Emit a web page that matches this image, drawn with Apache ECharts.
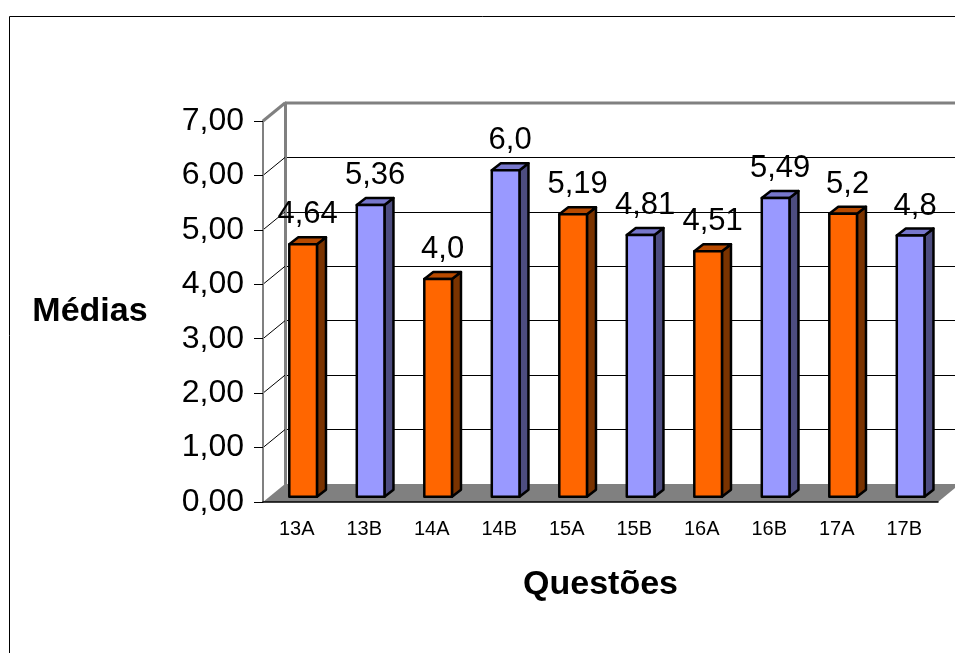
<!DOCTYPE html>
<html>
<head>
<meta charset="utf-8">
<script src="https://cdn.jsdelivr.net/npm/echarts@6/dist/echarts.min.js"></script>
<style>
  html, body { margin: 0; padding: 0; background: #fff; }
  #chart { width: 955px; height: 653px; }
</style>
</head>
<body>
<div id="chart"></div>
<script>
const questoes = ['13A', '13B', '14A', '14B', '15A', '15B', '16A', '16B', '17A', '17B']
const medias = [4.64, 5.36, 4.0, 6.0, 5.19, 4.81, 4.51, 5.49, 5.2, 4.8]
const casasDecimais = [2, 2, 1, 1, 2, 2, 2, 2, 1, 1]
const ticksY = [0, 1, 2, 3, 4, 5, 6, 7]

const FONTE = '"Liberation Sans", Arial, sans-serif'
// profundidade da caixa 3D (em px)
const PROF_X = 22, PROF_Y = -18
const cores = {
    A: {frente: '#FF6600', topo: '#B84A00', lado: '#7A3300'},
    B: {frente: '#9999FF', topo: '#7777CC', lado: '#4D4D80'}
}
const virgula = (v, n) => v.toFixed(n).replace('.', ',')

const renderBarra = (params, api) => {
    const i = api.value(0)
    const v = api.value(1)
    const base = api.coord([i, 0])
    const alto = api.coord([i, v])
    const banda = api.size([1, 0])[0]
    const w = banda * 0.41
    const ox = PROF_X * 0.29, oy = PROF_Y * 0.29
    const sx = 9, sy = -7
    const x0 = base[0] - w / 2 + ox
    const yB = base[1] + oy
    const yT = alto[1] + oy
    const c = cores[questoes[i].slice(-1)]
    const borda = {stroke: '#000', lineWidth: 2.5, lineJoin: 'round'}
    return {
        type: 'group',
        children: [
            {type: 'polygon', shape: {points: [[x0 + w, yT], [x0 + w + sx, yT + sy], [x0 + w + sx, yB + sy], [x0 + w, yB]]},
                style: Object.assign({fill: c.lado}, borda)},
            {type: 'polygon', shape: {points: [[x0, yT], [x0 + sx, yT + sy], [x0 + w + sx, yT + sy], [x0 + w, yT]]},
                style: Object.assign({fill: c.topo}, borda)},
            {type: 'rect', shape: {x: x0, y: yT, width: w, height: yB - yT},
                style: Object.assign({fill: c.frente}, borda)},
            {type: 'text', style: {
                text: virgula(v, casasDecimais[i]),
                x: x0 + (w + sx) / 2, y: yT + sy - 7,
                align: 'center', verticalAlign: 'bottom',
                font: '31px ' + FONTE, fill: '#000'
            }}
        ]
    }
}

const renderPiso = (params, api) => {
    const cs = params.coordSys
    const yb = cs.y + cs.height
    return {
        type: 'polygon',
        shape: {points: [[cs.x, yb], [cs.x + cs.width, yb], [cs.x + cs.width + PROF_X, yb + PROF_Y], [cs.x + PROF_X, yb + PROF_Y]]},
        style: {fill: '#808080'}
    }
}

const renderParede = (params, api) => {
    const cs = params.coordSys
    const t = api.value(1)
    const y = api.coord([0, t])[1]
    const ultimo = t === ticksY[ticksY.length - 1]
    const children = [
        {type: 'line', shape: {x1: cs.x, y1: y, x2: cs.x + PROF_X, y2: y + PROF_Y},
            style: {stroke: ultimo ? '#808080' : '#000', lineWidth: ultimo ? 3 : 1}}
    ]
    if (ultimo) {
        children.push({type: 'line', shape: {x1: cs.x + PROF_X, y1: y + PROF_Y, x2: cs.x + cs.width + 100, y2: y + PROF_Y},
            style: {stroke: '#808080', lineWidth: 3}})
    }
    return {type: 'group', children}
}

const option = {
    animation: false,
    backgroundColor: '#fff',
    graphic: [
        {type: 'rect', silent: true, z: 0,
            shape: {x: 9.5, y: 16.5, width: 1000, height: 700},
            style: {fill: 'none', stroke: '#000', lineWidth: 1}}
    ],
    grid: [
        {left: 263, top: 121, width: 675, height: 381},
        {left: 285, top: 103, width: 700, height: 381}
    ],
    xAxis: [
        {
            type: 'category', gridIndex: 0, data: questoes, z: 5,
            axisLine: {lineStyle: {color: '#000', width: 1.5}},
            axisTick: {length: 9, lineStyle: {color: '#000'}},
            axisLabel: {fontSize: 20, color: '#000', fontFamily: FONTE, margin: 17},
            name: 'Questões', nameLocation: 'middle', nameGap: 83,
            nameTextStyle: {fontSize: 34, fontWeight: 'bold', color: '#000', fontFamily: FONTE, verticalAlign: 'middle'}
        },
        {type: 'value', gridIndex: 1, show: false, min: 0, max: 1}
    ],
    yAxis: [
        {
            type: 'value', gridIndex: 0, min: 0, max: 7, interval: 1, z: 5,
            axisLine: {show: true, lineStyle: {color: '#808080', width: 2}},
            axisTick: {show: true, length: 9, lineStyle: {color: '#000'}},
            axisLabel: {fontSize: 32, color: '#000', fontFamily: FONTE, margin: 19, formatter: (v) => virgula(v, 2)},
            splitLine: {show: false},
            name: 'Médias', nameLocation: 'middle', nameGap: 173, nameRotate: 0,
            nameTextStyle: {fontSize: 34, fontWeight: 'bold', color: '#000', fontFamily: FONTE, align: 'center', verticalAlign: 'middle'}
        },
        {
            type: 'value', gridIndex: 1, min: 0, max: 7, interval: 1,
            axisLine: {show: true, lineStyle: {color: '#808080', width: 3}},
            axisTick: {show: false},
            axisLabel: {show: false},
            splitLine: {show: true, lineStyle: {color: ['#808080', '#000', '#000', '#000', '#000', '#000', '#000', '#808080'], width: 1}}
        }
    ],
    series: [
        {
            name: 'piso', type: 'custom', xAxisIndex: 0, yAxisIndex: 0, z: 2,
            renderItem: renderPiso, data: [[0, 0]], silent: true
        },
        {
            name: 'parede', type: 'custom', xAxisIndex: 0, yAxisIndex: 0, z: 2,
            renderItem: renderParede, data: ticksY.filter(t => t > 0).map(t => [0, t]), silent: true
        },
        {
            name: 'Médias', type: 'custom', xAxisIndex: 0, yAxisIndex: 0, z: 3,
            renderItem: renderBarra,
            encode: {x: 0, y: 1},
            data: medias.map((v, i) => [i, v])
        }
    ]
}

const chart = echarts.init(document.getElementById('chart'))
chart.setOption(option)
</script>
</body>
</html>
